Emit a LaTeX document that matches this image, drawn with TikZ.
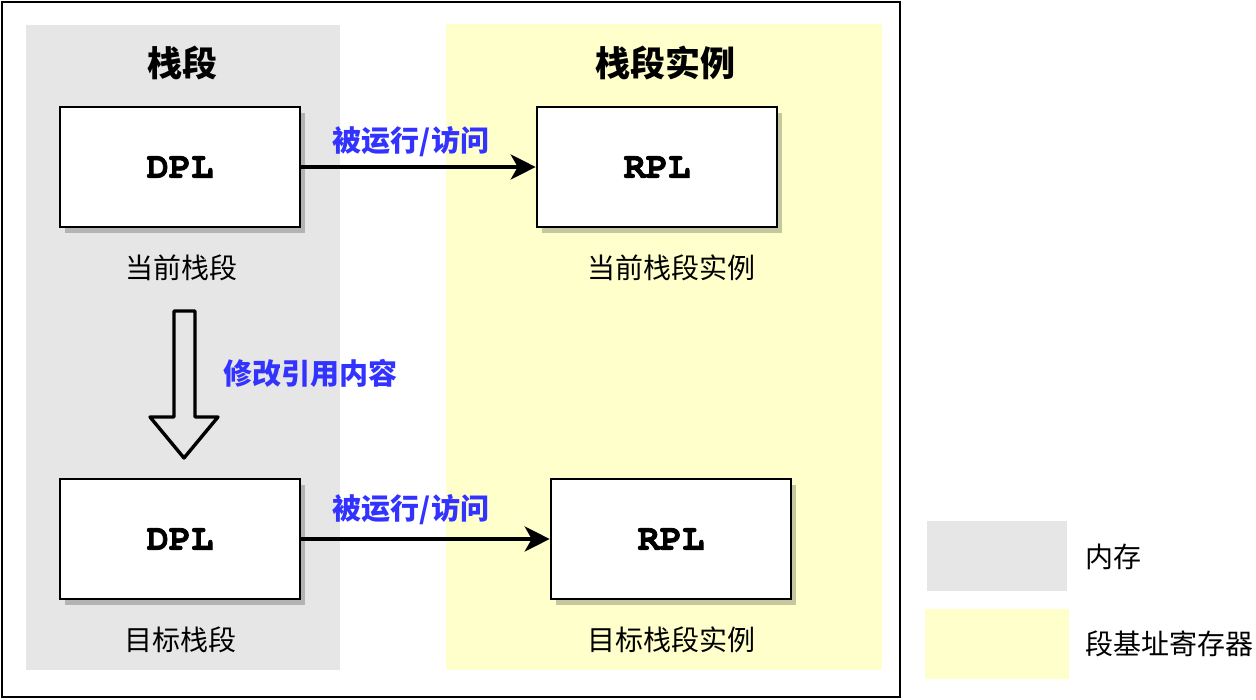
\documentclass[tikz,border=0pt]{standalone}
\usepackage{fontspec}
\newfontfamily\cjk{Noto Sans CJK SC}
\newfontfamily\mono{TeX Gyre Cursor}[BoldFeatures={FakeBold=2}]
\usetikzlibrary{arrows.meta,shadows}
\definecolor{memgray}{HTML}{E6E6E6}
\definecolor{regyellow}{HTML}{FFFFCC}
\definecolor{lblblue}{HTML}{3333FF}
\tikzset{
  regbox/.style={draw=black, line width=2.6pt, fill=white, minimum width=240pt, minimum height=120pt, inner sep=0pt,
    font=\mono\bfseries\fontsize{37}{40}\selectfont,
    drop shadow={shadow xshift=5pt, shadow yshift=-6pt, fill=black, opacity=0.22}},
  title/.style={font=\cjk\bfseries\fontsize{35}{40}\selectfont, inner sep=0pt},
  caption/.style={font=\cjk\fontsize{28}{32}\selectfont, inner sep=0pt},
  bluelbl/.style={font=\cjk\bfseries\fontsize{29}{33}\selectfont, text=lblblue, inner sep=0pt},
  conn/.style={line width=3.8pt, -{Stealth[length=25pt,width=25pt,inset=7pt]}},
}
\begin{document}
\begin{tikzpicture}[x=1pt,y=-1pt]
\useasboundingbox (0,0) rectangle (1256,700);
% outer frame
\draw[line width=2.6pt] (2,2) rectangle (900,697);
% panels
\fill[memgray] (26,25) rectangle (340,670);
\fill[regyellow] (446,24) rectangle (882,670);
% titles
\node[title] (t1) at (182,63) {栈段};
\node[title] (t2) at (665,63) {栈段实例};
% boxes
\node[regbox] (d1) at (180,167) {DPL};
\node[regbox] (r1) at (657,167) {RPL};
\node[regbox] (d2) at (180,539) {DPL};
\node[regbox] (r2) at (671,539) {RPL};
% captions
\node[caption] (c1) at (181,268) {当前栈段};
\node[caption] (c2) at (671,268) {当前栈段实例};
\node[caption] (c3) at (180,640) {目标栈段};
\node[caption] (c4) at (671,640) {目标栈段实例};
% connectors
\draw[conn] (d1.east) -- (r1.west);
\draw[conn] (d2.east) -- (r2.west);
\node[bluelbl] (l1) at (411,142) {被运行/访问};
\node[bluelbl] (l2) at (411,510) {被运行/访问};
% block arrow
\draw[line width=3.4pt, line join=round] (174,311) -- (195,311) -- (195,417) -- (218,417) -- (184,458) -- (150,417) -- (174,417) -- cycle;
\node[bluelbl] (l3) at (310,373) {修改引用内容};
% legend
\fill[memgray] (927,521) rectangle (1067,591);
\fill[regyellow] (925,609) rectangle (1069,679);
\node[caption, anchor=west] (k1) at (1085,557) {内存};
\node[caption, anchor=west] (k2) at (1085,644) {段基址寄存器};
\end{tikzpicture}
\end{document}
